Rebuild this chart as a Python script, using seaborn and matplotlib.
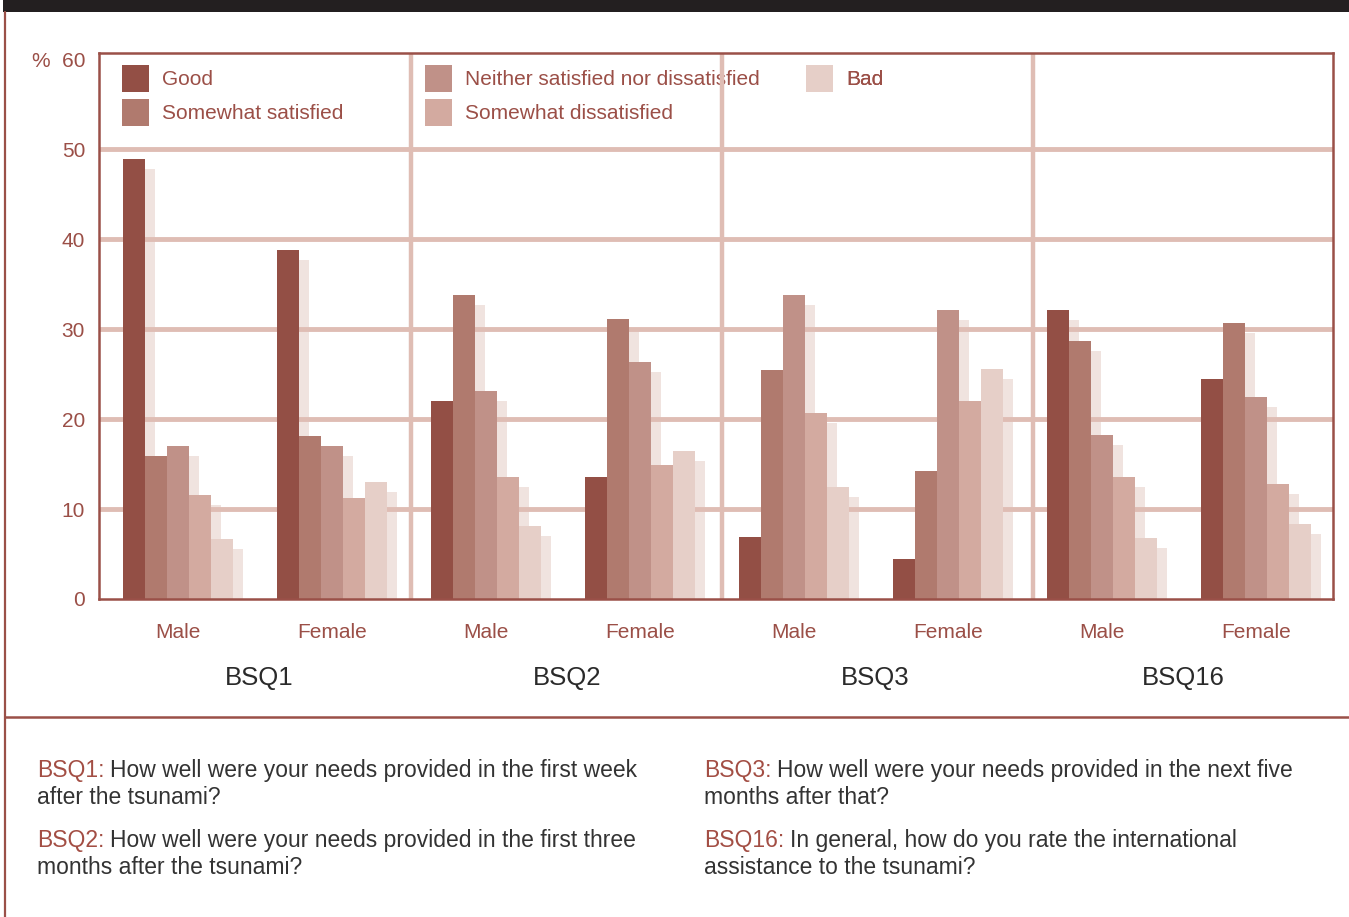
import numpy as np
import pandas as pd
import seaborn as sns
import matplotlib.pyplot as plt
from matplotlib import font_manager
from matplotlib.patches import Patch, Rectangle
from matplotlib.lines import Line2D
from matplotlib.transforms import ScaledTranslation, blended_transform_factory

# ---------------- data ----------------
questions = ["BSQ1", "BSQ2", "BSQ3", "BSQ16"]
genders = ["Male", "Female"]
responses = ["Good", "Somewhat satisfied", "Neither satisfied nor dissatisfied",
             "Somewhat dissatisfied", "Bad"]
# order: BSQ1 M, BSQ1 F, BSQ2 M, BSQ2 F, BSQ3 M, BSQ3 F, BSQ16 M, BSQ16 F
good = [48.9, 38.8, 22.0, 13.6, 6.9, 4.4, 32.1, 24.4]
somewhat_satisfied = [15.9, 18.1, 33.8, 31.1, 25.4, 14.2, 28.7, 30.7]
neither = [17.0, 17.0, 23.1, 26.3, 33.8, 32.1, 18.2, 22.4]
somewhat_dissatisfied = [11.6, 11.2, 13.6, 14.9, 20.7, 22.0, 13.6, 12.8]
bad = [6.7, 13.0, 8.1, 16.4, 12.4, 25.6, 6.8, 8.3]
series = [good, somewhat_satisfied, neither, somewhat_dissatisfied, bad]
questions_text = [
    ("BSQ1:", "How well were your needs provided in the first week", "after the tsunami?"),
    ("BSQ2:", "How well were your needs provided in the first three", "months after the tsunami?"),
    ("BSQ3:", "How well were your needs provided in the next five", "months after that?"),
    ("BSQ16:", "In general, how do you rate the international", "assistance to the tsunami?"),
]

clusters = [f"{q} {g}" for q in questions for g in genders]
rows = []
for r, vals in zip(responses, series):
    for c, v in zip(clusters, vals):
        rows.append({"cluster": c, "response": r, "value": v})
df = pd.DataFrame(rows)

# ---------------- style ----------------
colors = ["#934F45", "#B07A6E", "#C09188", "#D3AAA0", "#E6CFC8"]
shadow_c = "#F0E3DF"
grid_c = "#DFBDB4"
frame_c = "#9A5048"
text_c = "#9B4F47"
accent_c = "#A34E44"

sns.set_theme(style="white")
names = {f.name for f in font_manager.fontManager.ttflist}
main_font = "Liberation Sans" if "Liberation Sans" in names else "DejaVu Sans"
narrow_font = "Liberation Sans Narrow" if "Liberation Sans Narrow" in names else None
plt.rcParams['font.family'] = [main_font, 'DejaVu Sans']
foot_font = narrow_font if narrow_font else main_font
foot_size = 18 if narrow_font else 16.5

W, H = 1349, 917
fig = plt.figure(figsize=(W / 100, H / 100), dpi=100)
fig.patch.set_facecolor("white")
ax = fig.add_axes([99 / W, 1 - 599 / H, 1234 / W, 546 / H])

# shadow bars (3D side)
sns.barplot(data=df, x="cluster", y="value", hue="response", order=clusters,
            hue_order=responses, palette={r: shadow_c for r in responses},
            width=0.714, saturation=1, dodge=True, legend=False, errorbar=None,
            linewidth=0, ax=ax, zorder=1)
offset = ScaledTranslation(10 / 100, -10 / 100, fig.dpi_scale_trans)
for p in list(ax.patches):
    p.set_transform(ax.transData + offset)

# main bars
sns.barplot(data=df, x="cluster", y="value", hue="response", order=clusters,
            hue_order=responses, palette=dict(zip(responses, colors)),
            width=0.714, saturation=1, dodge=True, legend=False, errorbar=None,
            linewidth=0, ax=ax, zorder=3)

ax.set_xlim(-0.513, 7.50)
ax.set_ylim(0, 60.67)

for y in range(10, 60, 10):
    ax.axhline(y, color=grid_c, lw=3.5, zorder=2)
for x in [1.51, 3.53, 5.55]:
    ax.axvline(x, color=grid_c, lw=3.2, zorder=2)

for s in ax.spines.values():
    s.set_color(frame_c)
    s.set_linewidth(1.8)
    s.set_zorder(4)

ax.set_yticks(range(0, 61, 10))
ax.set_yticklabels(["0", "10", "20", "30", "40", "50", "%  60"])
for lbl in ax.get_yticklabels()[-1:]:
    lbl.set_y(60.5)
ax.set_xticks(range(len(clusters)))
ax.set_xticklabels(genders * len(questions))
ax.tick_params(axis="y", length=0, pad=10, labelsize=15, labelcolor=text_c)
ax.tick_params(axis="x", length=0, pad=17, labelsize=15, labelcolor=text_c)
ax.set_xlabel("")
ax.set_ylabel("")

trans = blended_transform_factory(ax.transData, ax.transAxes)
for k, q in enumerate(questions):
    ax.text(2 * k + 0.53, -0.145, q, transform=trans, ha="center", va="center",
            fontsize=18.5, color="#2a2a2a")

# legend in three columns
handles = [Patch(facecolor=c, edgecolor="none") for c in colors]
for a, b, xpos in [(0, 2, 0.0186), (2, 4, 0.264), (4, 5, 0.573)]:
    leg = ax.legend(handles[a:b], responses[a:b], loc="upper left",
                    bbox_to_anchor=(xpos, 0.978), frameon=False, fontsize=15,
                    labelcolor=text_c, handlelength=1.3, handleheight=1.62,
                    handletextpad=0.62, labelspacing=0.34, borderpad=0,
                    borderaxespad=0)
    leg.set_zorder(1.5)
    ax.add_artist(leg)

# page decorations
fig.add_artist(Rectangle((3 / W, 1 - 12 / H), 1, 12 / H, transform=fig.transFigure,
                         color="#231F20", lw=0))
fig.add_artist(Line2D([5 / W, 5 / W], [0, 1 - 12 / H], transform=fig.transFigure,
                      color=frame_c, lw=1.6))
fig.add_artist(Line2D([5 / W, 1], [1 - 717 / H] * 2, transform=fig.transFigure,
                      color=frame_c, lw=1.8))

# footer question texts
fpos = [(37, 770), (37, 840), (704, 770), (704, 840)]
for (pre, l1, l2), (px, py) in zip(questions_text, fpos):
    t = fig.text(px / W, 1 - py / H, pre, color=accent_c, fontsize=foot_size,
                 family=[foot_font, "DejaVu Sans"], va="center", ha="left")
    ax.annotate(l1, xy=(1, 0.5), xycoords=t, xytext=(4, 0), textcoords="offset points",
                va="center", ha="left", fontsize=foot_size, color="#333333",
                family=[foot_font, "DejaVu Sans"], annotation_clip=False)
    fig.text(px / W, 1 - (py + 28) / H, l2, color="#333333", fontsize=foot_size,
             family=[foot_font, "DejaVu Sans"], va="center", ha="left")

fig.savefig("out.png", dpi=100)
